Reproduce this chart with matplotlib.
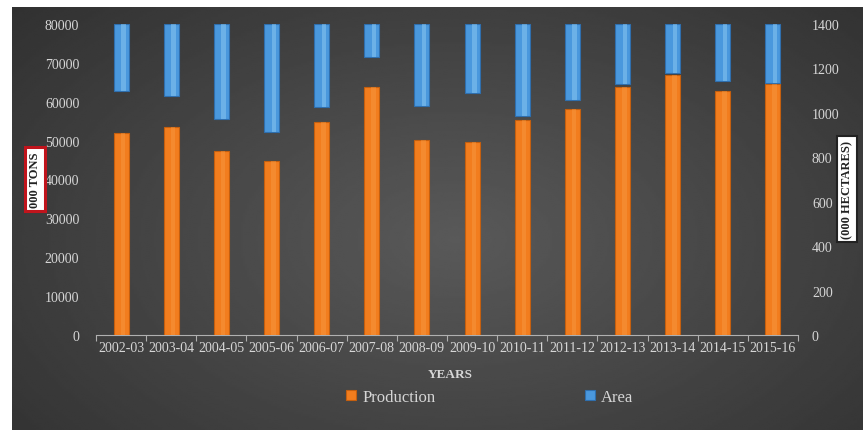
import numpy as np
import matplotlib
matplotlib.use("Agg")
import matplotlib.pyplot as plt

years = ["2002-03", "2003-04", "2004-05", "2005-06", "2006-07", "2007-08", "2008-09",
         "2009-10", "2010-11", "2011-12", "2012-13", "2013-14", "2014-15", "2015-16"]
production = [52000, 53400, 47300, 44700, 54800, 63800, 50200,
              49600, 55300, 58200, 63900, 66900, 62800, 64600]
area = [1099, 1076, 973, 914, 1027, 1252, 1031,
        1090, 986, 1058, 1130, 1180, 1144, 1135]

W, H = 863, 431
fig = plt.figure(figsize=(W / 100, H / 100), dpi=100)
fig.patch.set_facecolor("white")

# dark gradient background (leaves white strip top/left like the screenshot)
bg = fig.add_axes([12 / W, 0, 1 - 12 / W, 1 - 8 / H])
yy, xx = np.mgrid[0:1:200j, 0:1:400j]
r = np.sqrt(((xx - 0.52) / 0.75) ** 2 + ((yy - 0.55) / 0.9) ** 2)
shade = 0.35 - 0.17 * np.clip(r, 0, 1)
bg.imshow(shade, cmap="gray", vmin=0, vmax=1, aspect="auto",
          extent=[0, 1, 0, 1], interpolation="bilinear")
bg.set_axis_off()

ax = fig.add_axes([96 / W, 1 - 336 / H, (798 - 96) / W, (336 - 25) / H])
ax.patch.set_alpha(0)
ax2 = ax.twinx()
ax2.patch.set_alpha(0)

x = np.arange(len(years))
bw = 0.3
orange = "#f27d1e"
blue = "#4a98dd"

ax.bar(x, production, width=bw, color=orange, edgecolor="#c55f0e", linewidth=0.8,
       label="Production", zorder=3)
ax2.bar(x, [1400 - a for a in area], bottom=area, width=bw, color=blue,
        edgecolor="#2f6fae", linewidth=0.8, label="Area", zorder=3)
# highlight stripes for a bevelled look
ax.bar(x + bw * 0.12, production, width=bw * 0.3, color="#f9a04a", linewidth=0,
       alpha=0.4, zorder=4)
ax2.bar(x + bw * 0.15, [1400 - a for a in area], bottom=area, width=bw * 0.3,
        color="#8fcbf2", linewidth=0, alpha=0.5, zorder=4)

ax.set_xlim(-0.5, len(years) - 0.5)
ax.set_ylim(0, 80000)
ax2.set_ylim(0, 1400)
ax.set_yticks(range(0, 80001, 10000))
ax2.set_yticks(range(0, 1401, 200))

serif = "Liberation Serif"
tc = "#d6d6d6"
ax.set_xticks(x)
ax.set_xticklabels(years, fontsize=10, color=tc, family=serif)
ax.set_xticks(np.arange(-0.5, len(years), 1), minor=True)
ax.tick_params(axis="x", which="major", length=0, pad=4)
ax.tick_params(axis="x", which="minor", length=4, color="#b0b0b0", width=0.8)
ax.tick_params(axis="y", length=0, pad=12, labelsize=10, labelcolor=tc)
ax2.tick_params(axis="y", length=0, pad=10, labelsize=10, labelcolor=tc)
for lab in ax.get_yticklabels() + ax2.get_yticklabels():
    lab.set_family(serif)

for a in (ax, ax2):
    for s in ("top", "left", "right"):
        a.spines[s].set_visible(False)
ax.spines["bottom"].set_color("#b0b0b0")
ax.spines["bottom"].set_linewidth(0.8)
ax2.spines["bottom"].set_visible(False)

fig.text(450 / W, 1 - 375 / H, "YEARS", ha="center", va="center", fontsize=9.5,
         fontweight="bold", color=tc, family=serif)
fig.text(35 / W, 1 - 180 / H, "000 TONS", rotation=90, ha="center", va="center",
         fontsize=9, fontweight="bold", color="#222222", family=serif,
         bbox=dict(boxstyle="square,pad=0.35", fc="white", ec="#c0141c", lw=2.2))
fig.text(847 / W, 1 - 190 / H, "(000 HECTARES)", rotation=90, ha="center", va="center",
         fontsize=9, fontweight="bold", color="#222222", family=serif,
         bbox=dict(boxstyle="square,pad=0.3", fc="white", ec="#222222", lw=1.5))

h1, l1 = ax.get_legend_handles_labels()
h2, l2 = ax2.get_legend_handles_labels()
leg = fig.legend(h1 + h2, l1 + l2, loc="center", bbox_to_anchor=(490 / W, 1 - 398 / H),
                 ncol=2, frameon=False, handlelength=0.55, handleheight=0.55,
                 handletextpad=0.4, columnspacing=9,
                 prop={"family": serif, "size": 12})
for t in leg.get_texts():
    t.set_color(tc)

fig.savefig("out.png", dpi=100)
